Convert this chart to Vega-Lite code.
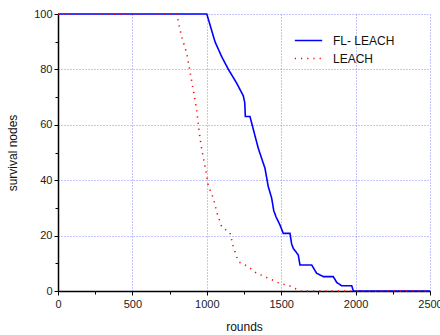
{
  "$schema": "https://vega.github.io/schema/vega-lite/v6.json",
  "width": 372,
  "height": 277,
  "autosize": {"type": "none"},
  "padding": {"left": 58, "top": 14, "right": 10, "bottom": 44},
  "background": "white",
  "config": {
    "view": {"stroke": null},
    "font": "Liberation Sans",
    "axis": {
      "labelFont": "Liberation Sans",
      "titleFont": "Liberation Sans",
      "labelFontSize": 11,
      "titleFontSize": 12,
      "titleFontWeight": "normal",
      "labelColor": "#222222",
      "titleColor": "#111111",
      "domainColor": "#000000",
      "domainWidth": 1.5,
      "tickColor": "#000000",
      "gridColor": "#8888ff",
      "gridDash": [1, 2],
      "gridWidth": 1
    }
  },
  "data": {
    "values": [
      {"series": "FL- LEACH", "round": 0, "nodes": 100},
      {"series": "FL- LEACH", "round": 1000, "nodes": 100},
      {"series": "FL- LEACH", "round": 1055, "nodes": 90},
      {"series": "FL- LEACH", "round": 1100, "nodes": 84.6},
      {"series": "FL- LEACH", "round": 1145, "nodes": 80},
      {"series": "FL- LEACH", "round": 1201, "nodes": 75},
      {"series": "FL- LEACH", "round": 1245, "nodes": 70.5},
      {"series": "FL- LEACH", "round": 1255, "nodes": 68},
      {"series": "FL- LEACH", "round": 1259, "nodes": 63},
      {"series": "FL- LEACH", "round": 1290, "nodes": 63},
      {"series": "FL- LEACH", "round": 1346, "nodes": 51.5},
      {"series": "FL- LEACH", "round": 1391, "nodes": 44.3},
      {"series": "FL- LEACH", "round": 1413, "nodes": 37.7},
      {"series": "FL- LEACH", "round": 1436, "nodes": 33.5},
      {"series": "FL- LEACH", "round": 1450, "nodes": 29},
      {"series": "FL- LEACH", "round": 1465, "nodes": 26.8},
      {"series": "FL- LEACH", "round": 1492, "nodes": 23.8},
      {"series": "FL- LEACH", "round": 1514, "nodes": 20.8},
      {"series": "FL- LEACH", "round": 1559, "nodes": 20.8},
      {"series": "FL- LEACH", "round": 1570, "nodes": 17},
      {"series": "FL- LEACH", "round": 1581, "nodes": 15.4},
      {"series": "FL- LEACH", "round": 1615, "nodes": 13},
      {"series": "FL- LEACH", "round": 1626, "nodes": 9.4},
      {"series": "FL- LEACH", "round": 1705, "nodes": 9.4},
      {"series": "FL- LEACH", "round": 1738, "nodes": 6.4},
      {"series": "FL- LEACH", "round": 1783, "nodes": 5.2},
      {"series": "FL- LEACH", "round": 1850, "nodes": 5.2},
      {"series": "FL- LEACH", "round": 1873, "nodes": 3.1},
      {"series": "FL- LEACH", "round": 1906, "nodes": 1.9},
      {"series": "FL- LEACH", "round": 1974, "nodes": 1.9},
      {"series": "FL- LEACH", "round": 1985, "nodes": 0},
      {"series": "FL- LEACH", "round": 2500, "nodes": 0},
      {"series": "LEACH", "round": 0, "nodes": 100},
      {"series": "LEACH", "round": 797, "nodes": 100},
      {"series": "LEACH", "round": 831, "nodes": 91.8},
      {"series": "LEACH", "round": 865, "nodes": 85.8},
      {"series": "LEACH", "round": 887, "nodes": 79.2},
      {"series": "LEACH", "round": 909, "nodes": 72.6},
      {"series": "LEACH", "round": 932, "nodes": 65.3},
      {"series": "LEACH", "round": 950, "nodes": 56.9},
      {"series": "LEACH", "round": 965, "nodes": 51.5},
      {"series": "LEACH", "round": 995, "nodes": 43},
      {"series": "LEACH", "round": 1010, "nodes": 38},
      {"series": "LEACH", "round": 1044, "nodes": 33.5},
      {"series": "LEACH", "round": 1066, "nodes": 28.6},
      {"series": "LEACH", "round": 1100, "nodes": 23.2},
      {"series": "LEACH", "round": 1156, "nodes": 21},
      {"series": "LEACH", "round": 1178, "nodes": 16},
      {"series": "LEACH", "round": 1212, "nodes": 10.6},
      {"series": "LEACH", "round": 1279, "nodes": 8.8},
      {"series": "LEACH", "round": 1335, "nodes": 6.4},
      {"series": "LEACH", "round": 1402, "nodes": 4.9},
      {"series": "LEACH", "round": 1480, "nodes": 3},
      {"series": "LEACH", "round": 1559, "nodes": 1.8},
      {"series": "LEACH", "round": 1626, "nodes": 0},
      {"series": "LEACH", "round": 2500, "nodes": 0}
    ]
  },
  "mark": {"type": "line", "strokeWidth": 1.6, "clip": false},
  "encoding": {
    "x": {
      "field": "round",
      "type": "quantitative",
      "title": "rounds",
      "scale": {"domain": [0, 2500], "nice": false, "zero": false},
      "axis": {
        "values": [0, 250, 500, 750, 1000, 1250, 1500, 1750, 2000, 2250, 2500],
        "format": "d",
        "labelExpr": "datum.value % 500 == 0 ? datum.label : ''",
        "tickSize": {"condition": {"test": "datum.value % 500 == 0", "value": 4}, "value": 3},
        "gridOpacity": {"condition": {"test": "datum.value % 500 == 0", "value": 1}, "value": 0},
        "labelPadding": 3,
        "titlePadding": 12,
        "labelFlush": false,
        "grid": true
      }
    },
    "y": {
      "field": "nodes",
      "type": "quantitative",
      "title": "survival nodes",
      "scale": {"domain": [0, 100], "nice": false},
      "axis": {
        "values": [0, 10, 20, 30, 40, 50, 60, 70, 80, 90, 100],
        "format": "d",
        "labelExpr": "datum.value % 20 == 0 ? datum.label : ''",
        "tickSize": {"condition": {"test": "datum.value % 20 == 0", "value": 4}, "value": 3},
        "gridOpacity": {"condition": {"test": "datum.value % 20 == 0", "value": 1}, "value": 0},
        "labelPadding": 2,
        "titlePadding": 14,
        "labelFlush": false,
        "grid": true
      }
    },
    "color": {
      "field": "series",
      "type": "nominal",
      "title": null,
      "scale": {"domain": ["FL- LEACH", "LEACH"], "range": ["#0000ff", "#ff0000"]},
      "legend": {
        "orient": "none",
        "legendX": 236,
        "legendY": 20,
        "padding": 0,
        "symbolType": "stroke",
        "symbolSize": 750,
        "symbolStrokeWidth": 1.6,
        "clipHeight": 13,
        "labelFontSize": 12,
        "labelFont": "Liberation Sans",
        "labelColor": "#111111",
        "rowPadding": 5,
        "labelOffset": 10
      }
    },
    "strokeDash": {
      "field": "series",
      "type": "nominal",
      "title": null,
      "scale": {"domain": ["FL- LEACH", "LEACH"], "range": [[1, 0], [1.2, 5]]},
      "legend": {
        "orient": "none",
        "legendX": 236,
        "legendY": 20,
        "padding": 0,
        "symbolType": "stroke",
        "symbolSize": 750,
        "symbolStrokeWidth": 1.6,
        "clipHeight": 13,
        "labelFontSize": 12,
        "labelFont": "Liberation Sans",
        "labelColor": "#111111",
        "rowPadding": 5,
        "labelOffset": 10
      }
    }
  }
}
